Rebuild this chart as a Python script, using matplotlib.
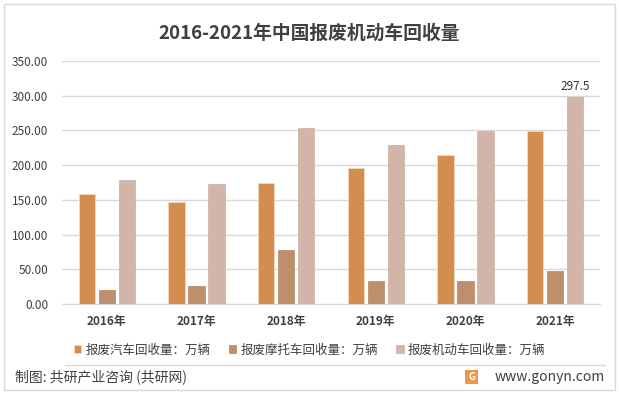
import matplotlib
matplotlib.use("Agg")
import matplotlib.pyplot as plt
import numpy as np
from matplotlib.patches import Rectangle

plt.rcParams['font.family'] = ['Noto Sans CJK SC', 'DejaVu Sans']

# 数据
years = ['2016年', '2017年', '2018年', '2019年', '2020年', '2021年']
car = [158.5, 146.5, 174.0, 195.5, 214.0, 249.0]
moto = [20.0, 26.0, 78.0, 33.0, 33.0, 47.5]
vehicle = [179.0, 173.0, 254.0, 229.0, 249.0, 297.5]
series_names = ['报废汽车回收量：万辆', '报废摩托车回收量：万辆', '报废机动车回收量：万辆']
colors = ['#D38D4F', '#BE8F6D', '#D2B4A8']

fig = plt.figure(figsize=(6.19, 3.94), dpi=100)
W, H = 619, 394

# 外框
fig.patches.append(Rectangle((4 / W, 4 / H), 611 / W, 386 / H, transform=fig.transFigure,
                             fill=False, edgecolor='#D9D9D9', linewidth=1))

ax = fig.add_axes([62 / W, 1 - 304 / H, 538 / W, 243 / H])
x = np.arange(len(years))
bw = 0.18
step = 0.223
for i, (vals, name) in enumerate(zip([car, moto, vehicle], series_names)):
    ax.bar(x + (i - 1) * step, vals, width=bw, color=colors[i], label=name,
           edgecolor='#F3D9C0' if i == 0 else colors[i], linewidth=0.6, zorder=3)

ax.text(x[-1] + step, vehicle[-1] + 7, '297.5', ha='center', va='bottom',
        fontsize=8.5, fontweight='medium', color='#333333')

ax.set_xlim(-0.5, len(years) - 0.5)
ax.set_ylim(0, 350)
ax.set_yticks(np.arange(0, 351, 50))
ax.set_yticklabels([f'{v:.2f}' for v in np.arange(0, 351, 50)], fontweight='medium')
ax.set_xticks(x)
ax.set_xticklabels(years, fontweight='bold')
ax.yaxis.grid(True, color='#D9D9D9', linewidth=1, zorder=0)
for s in ['top', 'right', 'left']:
    ax.spines[s].set_visible(False)
ax.spines['bottom'].set_color('#D9D9D9')
ax.tick_params(axis='both', length=0, labelsize=8.5, colors='#404040')
ax.tick_params(axis='y', pad=10)
ax.tick_params(axis='x', pad=8)

fig.text(0.5, 1 - 33 / H, '2016-2021年中国报废机动车回收量', ha='center', va='center',
         fontsize=13.5, fontweight='bold', color='#404040')

leg = fig.legend(loc='center', bbox_to_anchor=(0.5, 1 - 350 / H), ncol=3, frameon=False,
                 fontsize=9, handlelength=0.6, handleheight=0.6, handletextpad=0.3,
                 columnspacing=1.5)
for t in leg.get_texts():
    t.set_color('#404040')

# 分隔线
fig.add_artist(plt.Line2D([65 / W, 605 / W], [1 - 365 / H, 1 - 365 / H],
                          transform=fig.transFigure, color='#D9D9D9', linewidth=1))

fig.text(15 / W, 1 - 377 / H, '制图: 共研产业咨询 (共研网)', ha='left', va='center',
         fontsize=10, color='#404040')
fig.text(605 / W, 1 - 377 / H, 'www.gonyn.com', ha='right', va='center',
         fontsize=10, color='#404040')
# 小图标
fig.patches.append(Rectangle((465 / W, 1 - 384 / H), 13 / W, 14 / H, transform=fig.transFigure,
                             facecolor='#F0964A', edgecolor='none'))
fig.text(471.5 / W, 1 - 377 / H, 'G', ha='center', va='center', fontsize=7,
         fontweight='bold', color='white')

fig.savefig('out.png', dpi=100)
